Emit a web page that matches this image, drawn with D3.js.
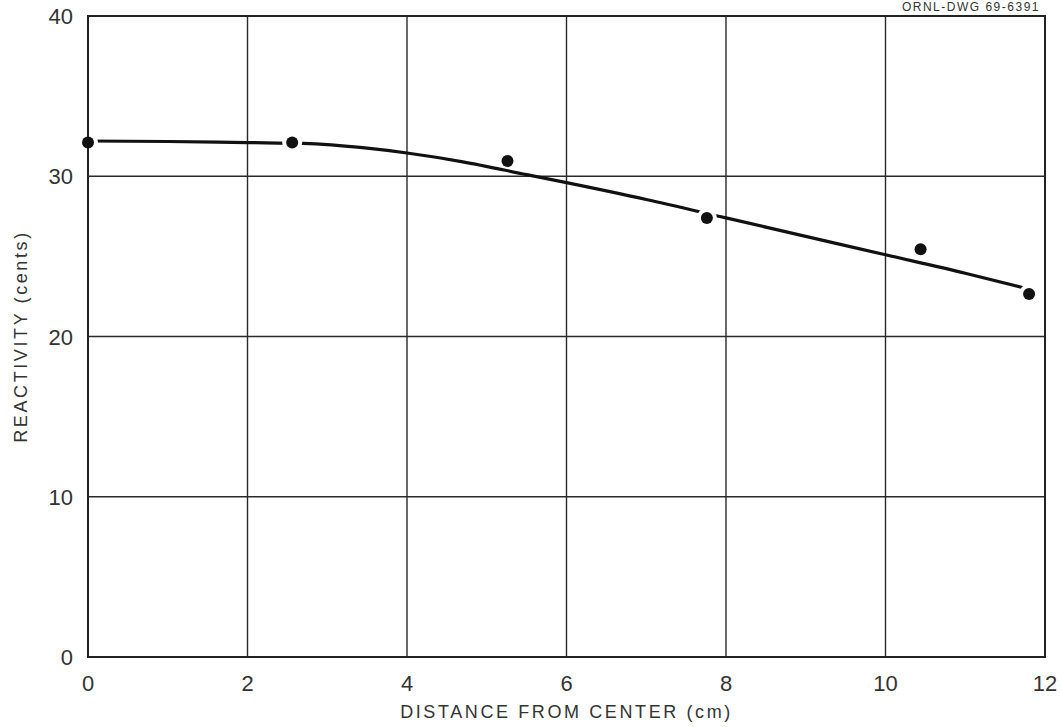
<!DOCTYPE html>
<html>
<head>
<meta charset="utf-8">
<script src="https://cdn.jsdelivr.net/npm/d3@7"></script>
<style>
  body { margin: 0; background: #fff; }
  text { font-family: "Liberation Sans", "DejaVu Sans", sans-serif; fill: #333; }
</style>
</head>
<body>
<div class="chart"></div>
<script>
// measured points
var distance   = [0, 2.56, 5.26, 7.76, 10.44, 11.8];
var reactivity = [32.1, 32.1, 30.95, 27.4, 25.45, 22.65];

// hand-drawn fitted curve
var curveX = [0, 1, 2, 2.7, 3.5, 4, 4.7, 5.5, 6, 7, 8, 9, 10, 11, 11.8];
var curveY = [32.2, 32.17, 32.1, 32.05, 31.75, 31.45, 30.9, 30.1, 29.6, 28.55, 27.4, 26.25, 25.1, 23.95, 22.95];

// points the curve runs through (it is broken around them)
var onCurve = [0, 1, 3, 5];

var xTicks = [0, 2, 4, 6, 8, 10, 12];
var yTicks = [0, 10, 20, 30, 40];
var xTickLabels = ["0", "2", "4", "6", "8", "10", "12"];

var W = 1061, H = 727;
var margin = {left: 88, right: 16, top: 16, bottom: 70};

var svg = d3.select(".chart").append("svg")
  .attr("width", W)
  .attr("height", H);

var x = d3.scaleLinear().domain([0, 12]).range([margin.left, W - margin.right]);
var y = d3.scaleLinear().domain([0, 40]).range([H - margin.bottom, margin.top]);

// grid
svg.append("g")
  .selectAll("line")
  .data(xTicks)
  .enter().append("line")
  .attr("x1", d => x(d)).attr("x2", d => x(d))
  .attr("y1", y(0)).attr("y2", y(40))
  .attr("stroke", "#2a2a2a")
  .attr("stroke-width", 1.4);

svg.append("g")
  .selectAll("line")
  .data(yTicks)
  .enter().append("line")
  .attr("x1", x(0)).attr("x2", x(12))
  .attr("y1", d => y(d)).attr("y2", d => y(d))
  .attr("stroke", "#2a2a2a")
  .attr("stroke-width", 1.4);

// frame
svg.append("rect")
  .attr("x", x(0)).attr("y", y(40))
  .attr("width", x(12) - x(0))
  .attr("height", y(0) - y(40))
  .attr("fill", "none")
  .attr("stroke", "#222")
  .attr("stroke-width", 2);

// y tick labels
svg.append("g")
  .selectAll("text")
  .data(yTicks)
  .enter().append("text")
  .attr("x", x(0) - 15)
  .attr("y", d => y(d) + 8)
  .attr("text-anchor", "end")
  .style("font-size", "22px")
  .text(d => d);

// x tick labels
svg.append("g")
  .selectAll("text")
  .data(xTicks)
  .enter().append("text")
  .attr("x", d => x(d))
  .attr("y", y(0) + 34)
  .attr("text-anchor", "middle")
  .style("font-size", "22px")
  .text((d, i) => xTickLabels[i]);

// axis titles
svg.append("text")
  .attr("x", x(6))
  .attr("y", H - 9)
  .attr("text-anchor", "middle")
  .style("font-size", "18px")
  .style("letter-spacing", "2.6px")
  .text("DISTANCE FROM CENTER (cm)");

svg.append("text")
  .attr("transform", "translate(27," + y(20) + ") rotate(-90)")
  .attr("text-anchor", "middle")
  .style("font-size", "18px")
  .style("letter-spacing", "2.6px")
  .text("REACTIVITY (cents)");

// drawing number in the top corner
svg.append("text")
  .attr("x", 1040)
  .attr("y", 11)
  .attr("text-anchor", "end")
  .style("font-size", "12px")
  .style("letter-spacing", "1.5px")
  .text("ORNL-DWG 69-6391");

// mask breaks the curve around the points it passes through
var mask = svg.append("defs").append("mask").attr("id", "gaps");
mask.append("rect")
  .attr("x", 0).attr("y", 0).attr("width", W).attr("height", H)
  .attr("fill", "#fff");
mask.selectAll("circle")
  .data(onCurve)
  .enter().append("circle")
  .attr("cx", i => x(distance[i]))
  .attr("cy", i => y(reactivity[i]))
  .attr("r", 10)
  .attr("fill", "#000");

var line = d3.line()
  .x(d => x(d[0]))
  .y(d => y(d[1]))
  .curve(d3.curveMonotoneX);

svg.append("path")
  .datum(d3.zip(curveX, curveY))
  .attr("d", line)
  .attr("fill", "none")
  .attr("stroke", "#111")
  .attr("stroke-width", 3.2)
  .attr("mask", "url(#gaps)");

// data points
svg.append("g")
  .selectAll("circle")
  .data(d3.zip(distance, reactivity))
  .enter().append("circle")
  .attr("cx", d => x(d[0]))
  .attr("cy", d => y(d[1]))
  .attr("r", 6)
  .attr("fill", "#111");
</script>
</body>
</html>
